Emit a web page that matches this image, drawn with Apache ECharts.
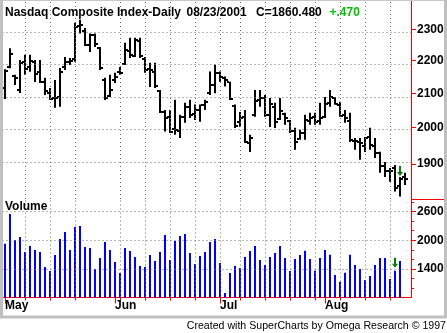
<!DOCTYPE html>
<html><head><meta charset="utf-8">
<script src="https://cdn.jsdelivr.net/npm/echarts@6/dist/echarts.min.js"></script>
<style>html,body{margin:0;padding:0;background:#fff}#c{width:447px;height:333px}</style>
</head><body><div id="c"></div>
<script>
// ---------------- DATA ----------------
const dates = [
 '2001-05-01','2001-05-02','2001-05-03','2001-05-04','2001-05-07','2001-05-08','2001-05-09','2001-05-10','2001-05-11',
 '2001-05-14','2001-05-15','2001-05-16','2001-05-17','2001-05-18','2001-05-21','2001-05-22','2001-05-23','2001-05-24','2001-05-25',
 '2001-05-29','2001-05-30','2001-05-31',
 '2001-06-01','2001-06-04','2001-06-05','2001-06-06','2001-06-07','2001-06-08','2001-06-11','2001-06-12','2001-06-13','2001-06-14','2001-06-15',
 '2001-06-18','2001-06-19','2001-06-20','2001-06-21','2001-06-22','2001-06-25','2001-06-26','2001-06-27','2001-06-28','2001-06-29',
 '2001-07-02','2001-07-03','2001-07-05','2001-07-06','2001-07-09','2001-07-10','2001-07-11','2001-07-12','2001-07-13',
 '2001-07-16','2001-07-17','2001-07-18','2001-07-19','2001-07-20','2001-07-23','2001-07-24','2001-07-25','2001-07-26','2001-07-27',
 '2001-07-30','2001-07-31',
 '2001-08-01','2001-08-02','2001-08-03','2001-08-06','2001-08-07','2001-08-08','2001-08-09','2001-08-10','2001-08-13','2001-08-14',
 '2001-08-15','2001-08-16','2001-08-17','2001-08-20','2001-08-21','2001-08-22','2001-08-23'
];
const opens = [2116,2180,2152,2110,2195,2180,2195,2165,2135,2100,2085,2088,2180,2195,2205,2310,2295,2250,2280,2240,2140,2092,
 2140,2165,2190,2230,2215,2262,2205,2175,2165,2108,2045,2030,1995,1990,2030,2060,2040,2050,2065,2100,2125,
 2160,2145,2135,2062,2015,2030,1958,2035,2080,2085,2035,2060,2025,2040,2020,1990,1968,1985,2020,2030,2020,
 2030,2070,2085,2065,2035,2020,1962,1960,1950,1975,1950,1930,1895,1880,1890,1840,1865];
const highs = [2173,2239,2156,2202,2218,2218,2202,2202,2147,2116,2140,2177,2211,2208,2321,2331,2304,2286,2286,2243,2147,2156,
 2162,2180,2256,2272,2272,2272,2211,2193,2193,2110,2051,2051,2081,2037,2072,2081,2067,2067,2081,2166,2187,
 2166,2151,2135,2067,2045,2051,1980,2110,2110,2095,2086,2072,2086,2043,2022,2000,1994,2037,2043,2043,2072,
 2089,2110,2089,2075,2051,2043,1971,1971,1974,2000,1971,1933,1905,1889,1897,1865,1876];
const lows = [2083,2176,2125,2101,2156,2165,2134,2131,2095,2080,2057,2060,2171,2186,2196,2286,2246,2227,2243,2171,2080,2089,
 2131,2156,2186,2208,2211,2208,2162,2119,2116,2042,1989,1985,1980,1971,2014,2028,2022,2017,2051,2095,2100,
 2135,2120,2080,1999,2002,1957,1932,2031,2060,2031,2002,1999,2022,2008,1985,1938,1966,1966,2008,2008,2008,
 2028,2060,2066,2031,2014,1960,1938,1911,1932,1938,1916,1876,1865,1852,1827,1814,1844];
const closes = [2168,2221,2146,2192,2174,2199,2157,2134,2107,2082,2086,2166,2194,2199,2306,2314,2248,2282,2251,2176,2085,2110,
 2149,2160,2234,2218,2264,2215,2171,2170,2122,2044,2028,1989,1993,2031,2059,2035,2051,2064,2075,2125,2161,
 2149,2141,2082,2004,2027,1960,1972,2076,2085,2035,2067,2016,2047,2029,1990,1959,1984,2023,2029,2017,2027,
 2068,2088,2068,2034,2028,1966,1963,1956,1970,1952,1930,1893,1880,1881,1835,1860.01,1860.48];
// volume read at each bar position (millions)
const volumes = [1927,2549,2004,2067,1753,1878,1795,1753,1439,1355,1690,2025,2172,1795,2276,2297,1857,1837,1397,1627,1962,1795,
 1543,1313,1837,1774,1648,1460,1439,1690,1564,1753,2109,1585,1983,2088,2130,1732,1501,1669,1753,1962,2025,
 1522,894,1313,1460,1418,1648,1774,1878,1585,1481,1648,1732,1878,1627,1355,1606,1690,1780,1606,1361,1627,
 1795,1696,1271,1131,1319,1696,1481,1397,1166,1250,1481,1627,1627,1187,1361,1564];
const priceTicks = [1900, 2000, 2100, 2200, 2300];
const volumeTicks = [1400, 2000, 2600];
const volumeMinorTicks = [1000, 1200, 1600, 1800, 2200, 2400, 2800];
const monthNames = ['Jan','Feb','Mar','Apr','May','Jun','Jul','Aug','Sep','Oct','Nov','Dec'];
const priceSignal = [79];
const volumeSignal = [78];
const titleParts = ['Nasdaq Composite Index-Daily', '08/23/2001', 'C=1860.480', '+.470'];
const volumeTitle = 'Volume';
const credit = 'Created with SuperCharts by Omega Research \u00A9 1997';

// ---------------- BUILD ----------------
const L = Math.log10;
const mondays = [], monthStarts = [];
dates.forEach((d, i) => {
  const dt = new Date(d + 'T00:00:00Z');
  if (dt.getUTCDay() === 1) mondays.push(i);
  if (i === 0 || d.slice(5, 7) !== dates[i - 1].slice(5, 7)) monthStarts.push(i);
});
const xMin = -0.5, xMax = 81.2;
const priceMin = L(1807.4), priceMax = L(2394);
const volMin = 800, volMax = 2863;
const RED = '#ff0000';
const FONT = '"Liberation Sans", Arial, sans-serif';
const dotted = { color: '#707070', width: 1, type: [1, 3] };

const ohlcData = dates.map((d, i) => [i, L(opens[i]), L(highs[i]), L(lows[i]), L(closes[i])]);

function gridLines(yValues) {
  return {
    silent: true, symbol: ['none', 'none'], label: { show: false }, animation: false,
    lineStyle: dotted, emphasis: { disabled: true },
    data: yValues.map(v => ({ yAxis: v })).concat(mondays.map(i => ({ xAxis: i })))
  };
}

function renderOHLC(params, api) {
  const k = api.value(0);
  const pO = api.coord([k, api.value(1)]);
  const pH = api.coord([k, api.value(2)]);
  const pL = api.coord([k, api.value(3)]);
  const pC = api.coord([k, api.value(4)]);
  const x = pH[0];
  const s = { fill: '#000' };
  return { type: 'group', children: [
    { type: 'rect', shape: { x: x - 1, y: pH[1], width: 2, height: Math.max(1, pL[1] - pH[1]) }, style: s },
    { type: 'rect', shape: { x: x - 3, y: Math.round(pO[1]) - 1, width: 2, height: 2 }, style: s },
    { type: 'rect', shape: { x: x + 1, y: Math.round(pC[1]) - 1, width: 2, height: 2 }, style: s }
  ]};
}
function arrowRenderer(gap) {
  return function (params, api) {
    const p = api.coord([api.value(0), api.value(1)]);
    const x = p[0], t = p[1] - gap;
    return { type: 'polygon', shape: { points: [
      [x - 1, t - 10], [x + 1, t - 10], [x + 1, t - 4], [x + 3, t - 4], [x, t], [x - 3, t - 4], [x - 1, t - 4]
    ]}, style: { fill: '#008000' } };
  };
}

const chart = echarts.init(document.getElementById('c'), null, { renderer: 'canvas' });
chart.setOption({
  animation: false,
  backgroundColor: '#ffffff',
  textStyle: { fontFamily: FONT },
  grid: [
    { left: 2.5, right: 36, top: 1, bottom: 134, show: false },
    { left: 2.5, right: 36, top: 199, bottom: 35.5, show: false }
  ],
  xAxis: [
    { gridIndex: 0, type: 'value', min: xMin, max: xMax, show: false,
      axisLine: { show: false, onZero: false }, axisTick: { show: false },
      axisLabel: { show: false }, splitLine: { show: false } },
    { gridIndex: 1, type: 'value', min: xMin, max: xMax, position: 'bottom',
      axisLine: { show: true, onZero: false, lineStyle: { color: RED, width: 1 } },
      axisTick: { show: true, customValues: mondays, length: 3, lineStyle: { color: RED } },
      axisLabel: { show: false }, splitLine: { show: false } },
    { gridIndex: 1, type: 'value', min: xMin, max: xMax, position: 'bottom',
      axisLine: { show: false, onZero: false },
      axisTick: { show: true, customValues: monthStarts, length: 6, lineStyle: { color: RED } },
      axisLabel: { show: true, customValues: monthStarts, align: 'left', margin: 2,
        formatter: v => monthNames[+dates[Math.round(v)].slice(5, 7) - 1],
        color: '#000', fontWeight: 'bold', fontSize: 12, fontFamily: FONT },
      splitLine: { show: false } }
  ],
  yAxis: [
    { gridIndex: 0, type: 'value', position: 'right', min: priceMin, max: priceMax,
      axisLine: { show: true, onZero: false, lineStyle: { color: RED } },
      axisTick: { show: true, customValues: priceTicks.map(L), length: 5, lineStyle: { color: RED } },
      axisLabel: { show: true, customValues: priceTicks.map(L), margin: 6,
        formatter: v => String(Math.round(Math.pow(10, v))),
        color: '#000', fontWeight: 'bold', fontSize: 12, fontFamily: FONT },
      splitLine: { show: false } },
    { gridIndex: 1, type: 'value', position: 'right', min: volMin, max: volMax,
      axisLine: { show: true, onZero: false, lineStyle: { color: RED } },
      axisTick: { show: true, customValues: volumeTicks, length: 5, lineStyle: { color: RED } },
      axisLabel: { show: true, customValues: volumeTicks, margin: 6, formatter: v => String(v),
        color: '#000', fontWeight: 'bold', fontSize: 12, fontFamily: FONT },
      splitLine: { show: false } },
    { gridIndex: 1, type: 'value', position: 'right', min: volMin, max: volMax,
      axisLine: { show: false, onZero: false },
      axisTick: { show: true, customValues: volumeMinorTicks, length: 3, lineStyle: { color: RED } },
      axisLabel: { show: false }, splitLine: { show: false } }
  ],
  series: [
    { type: 'custom', name: 'price', xAxisIndex: 0, yAxisIndex: 0, data: ohlcData,
      encode: { x: 0, y: [1, 2, 3, 4] }, renderItem: renderOHLC, silent: true,
      markLine: gridLines(priceTicks.map(L)) },
    { type: 'custom', name: 'priceSignal', xAxisIndex: 0, yAxisIndex: 0,
      data: priceSignal.map(i => [i, L(highs[i])]), encode: { x: 0, y: 1 },
      renderItem: arrowRenderer(1), silent: true, z: 5 },
    { type: 'bar', name: 'volume', xAxisIndex: 1, yAxisIndex: 1,
      data: volumes.map((v, i) => [i, v]), barWidth: 2, clip: true,
      itemStyle: { color: '#0000ff' }, silent: true,
      markLine: gridLines(volumeTicks) },
    { type: 'custom', name: 'volumeSignal', xAxisIndex: 1, yAxisIndex: 1,
      data: volumeSignal.map(i => [i, volumes[i]]), encode: { x: 0, y: 1 },
      renderItem: arrowRenderer(3), silent: true, z: 5 }
  ],
  graphic: [
    { type: 'rect', z: 100, shape: { x: 0, y: 0, width: 447, height: 1 }, style: { fill: '#c8c8c8' } },
    { type: 'rect', z: 100, shape: { x: 0, y: 0, width: 3, height: 318 }, style: { fill: '#c0c0c0' } },
    { type: 'rect', z: 100, shape: { x: 444, y: 0, width: 3, height: 318 }, style: { fill: '#c0c0c0' } },
    { type: 'rect', z: 100, shape: { x: 0, y: 315.5, width: 447, height: 3 }, style: { fill: '#c0c0c0' } },
    { type: 'rect', z: 100, shape: { x: 411, y: 199, width: 33, height: 1 }, style: { fill: RED } },
    { type: 'text', z: 101, x: 5, y: 12.5, style: { text: titleParts[0], font: 'bold 12px ' + FONT, fill: '#000', verticalAlign: 'middle' } },
    { type: 'text', z: 101, x: 186.5, y: 12.5, style: { text: titleParts[1], font: 'bold 12px ' + FONT, fill: '#000', verticalAlign: 'middle' } },
    { type: 'text', z: 101, x: 256, y: 12.5, style: { text: titleParts[2], font: 'bold 12px ' + FONT, fill: '#000', verticalAlign: 'middle' } },
    { type: 'text', z: 101, x: 329.5, y: 12.5, style: { text: titleParts[3], font: 'bold 12px ' + FONT, fill: '#00c000', verticalAlign: 'middle' } },
    { type: 'text', z: 101, x: 5, y: 207, style: { text: volumeTitle, font: 'bold 12px ' + FONT, fill: '#000', verticalAlign: 'middle' } },
    { type: 'text', z: 101, x: 446, y: 326.5, style: { text: credit, font: '10.6px ' + FONT, fill: '#000', align: 'right', verticalAlign: 'middle' } }
  ]
});
</script>
</body></html>
